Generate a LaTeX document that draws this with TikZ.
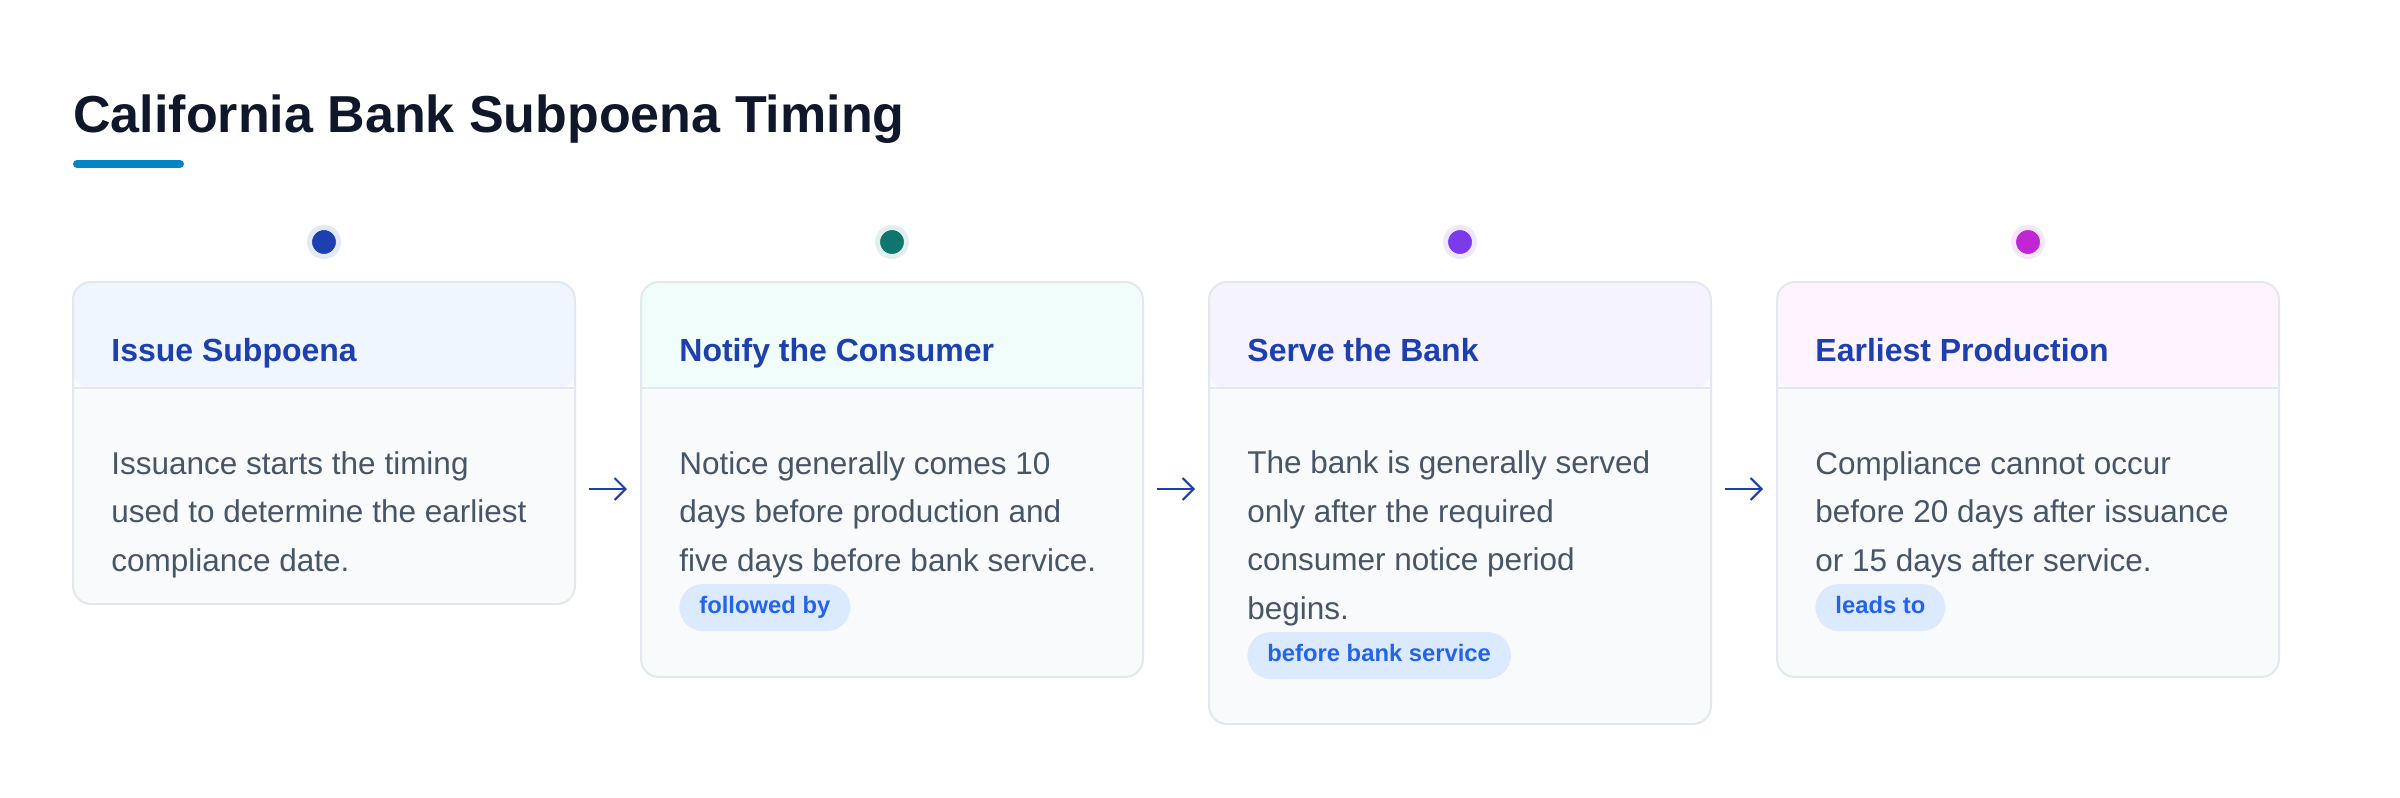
\documentclass[tikz,border=0pt]{standalone}
\usepackage{fontspec}
\setmainfont{Liberation Sans}
\usetikzlibrary{arrows.meta}
\definecolor{inkdark}{HTML}{0F172A}
\definecolor{accentbar}{HTML}{0284C7}
\definecolor{headink}{HTML}{1E40AF}
\definecolor{bodyink}{HTML}{475569}
\definecolor{cardline}{HTML}{E2E8F0}
\definecolor{cardbody}{HTML}{F8FAFC}
\definecolor{headA}{HTML}{EFF6FF}
\definecolor{headB}{HTML}{F0FDFA}
\definecolor{headC}{HTML}{F5F3FF}
\definecolor{headD}{HTML}{FDF4FF}
\definecolor{dotA}{HTML}{1E40AF}
\definecolor{dotB}{HTML}{0F766E}
\definecolor{dotC}{HTML}{7C3AED}
\definecolor{dotD}{HTML}{C026D3}
\definecolor{pillfill}{HTML}{DBEAFE}
\definecolor{pillink}{HTML}{2563EB}
\tikzset{
  card/.style={rectangle, rounded corners=9pt, draw=cardline, line width=1pt,
    fill=cardbody, minimum width=251pt, inner sep=0pt, anchor=north,
    path picture={
      \fill[#1] (path picture bounding box.north west) rectangle
        ([yshift=-53pt]path picture bounding box.north east);
      \draw[cardline, line width=1pt] ([yshift=-53pt]path picture bounding box.north west) --
        ([yshift=-53pt]path picture bounding box.north east);
    }},
  dot/.style={circle, inner sep=0pt, minimum size=14.5pt, fill=#1, draw=#1!12, line width=2.5pt},
  headtext/.style={anchor=base west, inner sep=0pt, text=headink, font=\fontsize{16}{19}\selectfont\bfseries},
  bodytext/.style={anchor=base west, inner sep=0pt, align=left, text=bodyink, font=\fontsize{15.75}{24.25}\selectfont},
  pill/.style={anchor=west, rounded corners=11.75pt, fill=pillfill, text=pillink, inner xsep=10pt,
    inner ysep=0pt, minimum height=23.5pt, text height=8.6pt, text depth=2.4pt,
    font=\fontsize{11.9}{14}\selectfont\bfseries},
  flow/.style={-{Straight Barb[length=5.5pt,width=11pt]}, headink, line width=1pt, shorten <=6.5pt, shorten >=6.5pt}
}
\begin{document}
\begin{tikzpicture}[x=0.5pt,y=0.5pt,yscale=-1,xscale=1]
\useasboundingbox (0,0) rectangle (2400,798);
%Title
\node[anchor=base west, inner sep=0pt, text=inkdark, font=\fontsize{26}{30}\selectfont\bfseries] (title) at (73,132) {California Bank Subpoena Timing};
\draw[accentbar, line width=4pt, line cap=round] (77,164) -- (180,164);
%Cards
\node[card=headA, minimum height=161pt] (c1) at (324,281) {};
\node[card=headB, minimum height=197.5pt] (c2) at (892,281) {};
\node[card=headC, minimum height=221pt] (c3) at (1460,281) {};
\node[card=headD, minimum height=197.5pt] (c4) at (2028,281) {};
%Dots
\node[dot=dotA] (d1) at (324,242) {};
\node[dot=dotB] (d2) at (892,242) {};
\node[dot=dotC] (d3) at (1460,242) {};
\node[dot=dotD] (d4) at (2028,242) {};
%Headers
\node[headtext] (h1) at (111,361) {Issue Subpoena};
\node[headtext] (h2) at (679,361) {Notify the Consumer};
\node[headtext] (h3) at (1247,361) {Serve the Bank};
\node[headtext] (h4) at (1815,361) {Earliest Production};
%Body text (base = last line)
\node[bodytext] (b1) at (111,571) {Issuance starts the timing\\used to determine the earliest\\compliance date.};
\node[bodytext] (b2) at (679,571) {Notice generally comes 10\\days before production and\\five days before bank service.};
\node[bodytext] (b3) at (1247,619) {The bank is generally served\\only after the required\\consumer notice period\\begins.};
\node[bodytext] (b4) at (1815,571) {Compliance cannot occur\\before 20 days after issuance\\or 15 days after service.};
%Pills
\node[pill] (p2) at (679,607.5) {followed by};
\node[pill] (p3) at (1247,655.5) {before bank service};
\node[pill] (p4) at (1815,607.5) {leads to};
%Arrows
\coordinate (a1) at (608,489);
\draw[flow] (c1.east |- a1) -- (c2.west |- a1);
\draw[flow] (c2.east |- a1) -- (c3.west |- a1);
\draw[flow] (c3.east |- a1) -- (c4.west |- a1);
\end{tikzpicture}
\end{document}
